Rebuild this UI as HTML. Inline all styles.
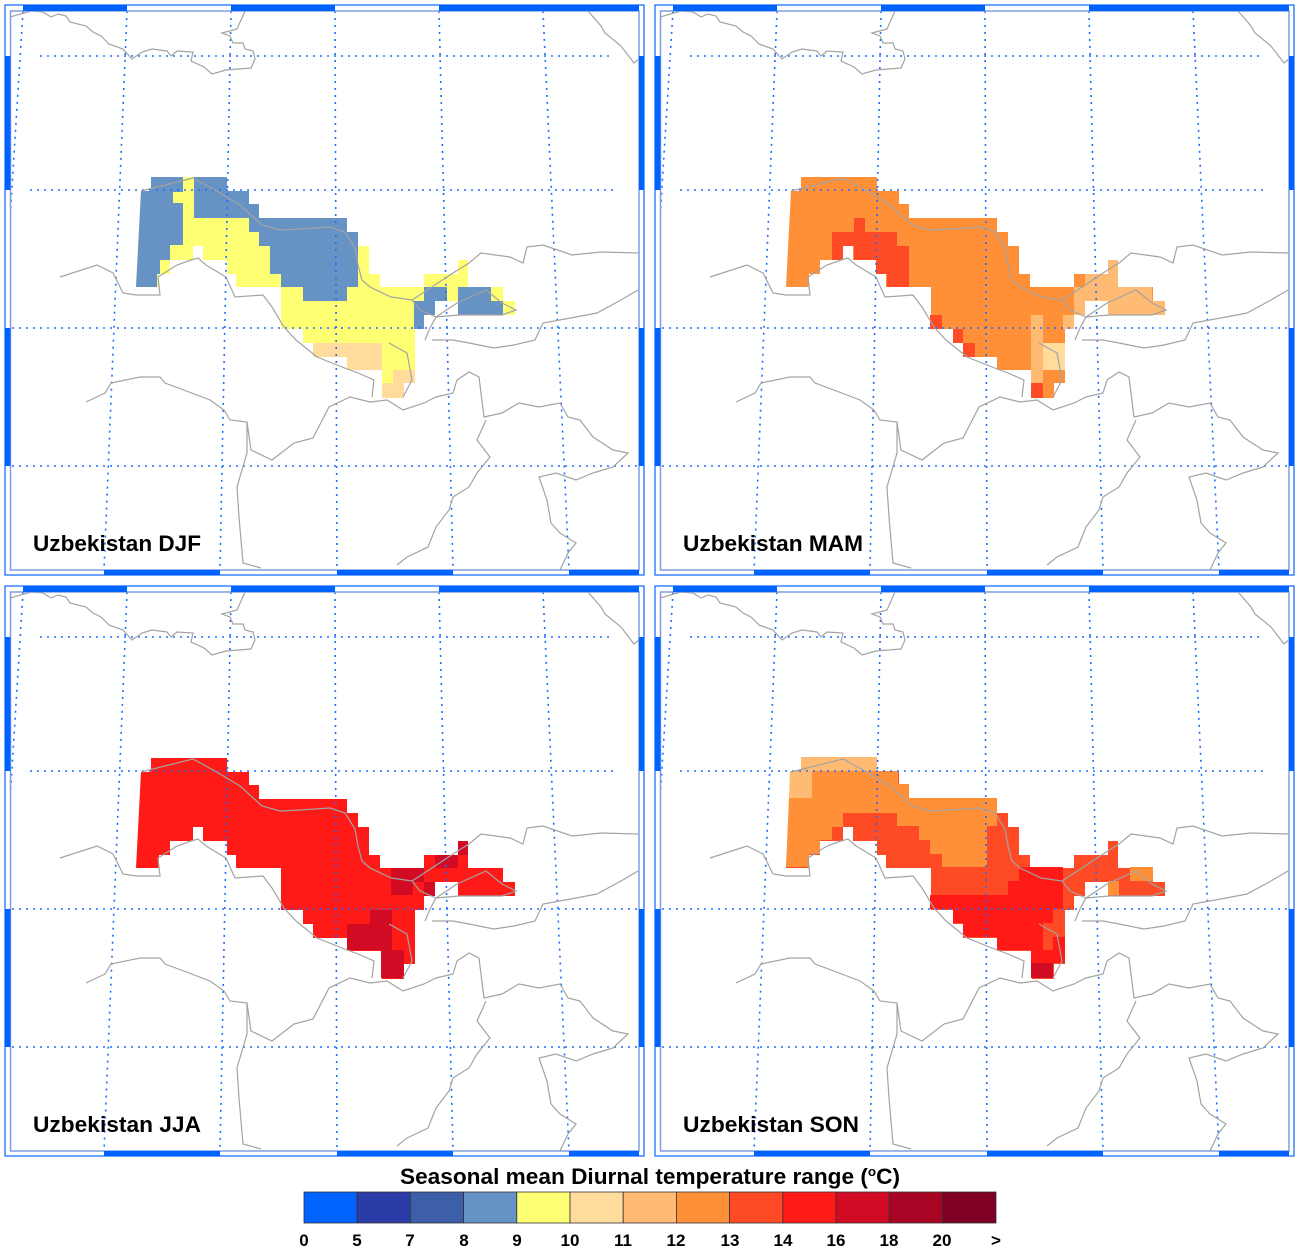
<!DOCTYPE html>
<html><head><meta charset="utf-8"><style>
html,body{margin:0;padding:0;background:#fff;}
svg{display:block;}
text{font-family:"Liberation Sans",Arial,sans-serif;font-weight:bold;fill:#000;}
</style></head><body>
<svg width="1300" height="1250" viewBox="0 0 1300 1250" xmlns="http://www.w3.org/2000/svg">
<defs>
<clipPath id="cp"><rect x="10.5" y="11" width="628.5" height="559"/></clipPath>
<polygon id="uz" points="151,177 227,177 227,191 249,191 249,204 259,204 259,218 347,218 347,232 358,232 358,246 369,246 369,274 380,274 380,287 424,287 424,274 435,274 458,274 458,260 468,260 468,287 503,287 503,301 515,301 515,315 458,315 458,301 435,301 435,315 424,315 424,329 415,329 415,383 404,383 404,398 382,398 382,370 347,370 347,357 313,357 313,343 303,343 303,329 281,329 281,287 236,287 236,274 227,274 227,260 203,260 203,246 193,246 193,260 170,260 170,274 159,274 159,287 136,287 141,191 151,191"/>
<g id="frame">
 <rect x="5" y="5" width="639" height="570" fill="none" stroke="#0a64ff" stroke-width="1.2"/>
 <rect x="10.5" y="11" width="628.5" height="559" fill="none" stroke="#7f9ee0" stroke-width="1.5"/>
 <g fill="#0062ff">
  <rect x="23" y="5" width="104" height="6"/><rect x="231" y="5" width="104" height="6"/><rect x="439" y="5" width="200" height="6"/>
  <rect x="104" y="570" width="116" height="5"/><rect x="337" y="570" width="116" height="5"/><rect x="569" y="570" width="70" height="5"/>
  <rect x="5" y="56" width="5.5" height="134"/><rect x="5" y="328" width="5.5" height="138"/>
  <rect x="639" y="56" width="5" height="134"/><rect x="639" y="328" width="5" height="138"/>
 </g>
</g>
<g id="grid" clip-path="url(#cp)">
 <g fill="none" stroke="#1f6dff" stroke-width="1.6" stroke-dasharray="2,5">
  <line x1="23" y1="11" x2="-12" y2="570"/><line x1="127" y1="11" x2="104" y2="570"/>
  <line x1="231" y1="11" x2="220" y2="570"/><line x1="335" y1="11" x2="337" y2="570"/>
  <line x1="439" y1="11" x2="453" y2="570"/><line x1="543" y1="11" x2="569" y2="570"/>
  <line x1="40" y1="56" x2="612" y2="56"/><line x1="30" y1="190" x2="615" y2="190"/>
  <line x1="12" y1="328" x2="637" y2="328"/><line x1="12" y1="466" x2="637" y2="466"/>
 </g>
</g>
<g id="borders" clip-path="url(#cp)" fill="none" stroke="#a3a3a3" stroke-width="1.2">
 <polyline points="10,17 31,11 43,12 51,17 58,14 66,16 70,22 86,26 93,32 101,36 109,44 123,49 132,59 142,52 152,49 167,51 171,56 177,51 193,52 191,61 204,67 212,74 226,70 251,68 255,59 253,51 245,49 243,43 233,43 230,36 222,33 237,29 245,11"/>
 <polyline points="588,11 601,26 605,33 621,46 634,63 640,58"/>
 <polyline points="141,191 193,178 215,190 240,205 262,225 280,230 300,229 330,227 345,232 355,248 358,265 362,280 370,287 391,297 412,300 432,287 453,273 469,263 481,253 510,257 523,263 527,247 543,245 572,255 601,252 638,253"/>
 <polyline points="60,277 97,265 113,273 123,293 136,295 160,295 158,277 177,265 191,260 198,258 206,265 226,277 235,297 263,295 272,307 284,327 296,340 317,357 342,367 358,373 374,380 372,397"/>
 <polyline points="389,343 407,353 412,380 403,397"/>
 <polyline points="412,300 420,310 436,317 457,303 486,290 502,303 516,310 502,315 459,315 436,317 430,328 425,340"/>
 <polyline points="432,340 453,340 469,343 494,348 514,345 535,340 543,323 576,317 597,313 621,300 638,290"/>
 <polyline points="86,402 105,393 111,383 140,377 160,377 165,383 189,392 210,400 224,410 230,420 247,422 251,450 272,460 294,443 313,438 329,407 350,397 370,402 387,400 403,410 424,403 436,397 453,393 457,380 469,372 479,377 484,417 502,413 519,403 539,407 560,403 568,417 580,420 593,437 613,450 628,453 613,467 593,473 576,480 556,473 539,477 547,500 551,523 560,533 576,543 568,553 560,570"/>
 <polyline points="247,422 247,453 237,487 239,517 243,563 261,568"/>
 <polyline points="486,420 477,440 490,457 477,473 469,487 453,497 449,510 436,527 428,547 407,557 397,565"/>
</g>
</defs>

<!-- DJF -->
<g>
 <use href="#uz" fill="#ffff73"/>
 <g fill="#6692c4">
  <polygon points="151,177 183,177 183,192 173,192 173,203 183,203 183,245 170,245 170,260 160,260 160,274 157,274 157,287 136,287 141,191 151,191"/>
  <polygon points="194,177 227,177 227,191 249,191 249,204 259,204 259,218 347,218 347,232 358,232 358,287 347,287 347,301 303,301 303,287 281,287 281,274 270,274 270,246 259,246 259,232 249,232 249,218 194,218"/>
  <polygon points="424,287 447,287 447,301 435,301 435,315 424,315 424,329 414,329 414,301 424,301"/>
  <polygon points="458,287 491,287 491,301 503,301 503,315 458,315"/>
 </g>
 <g fill="#ffdc9c">
  <polygon points="313,343 382,343 382,370 347,370 347,357 313,357"/>
  <polygon points="393,370 415,370 415,383 404,383 404,398 382,398 382,383 393,383"/>
 </g>
 <use href="#grid"/><use href="#borders"/><use href="#frame"/>
 <text x="33" y="551" font-size="22" textLength="168" lengthAdjust="spacingAndGlyphs">Uzbekistan DJF</text>
</g>

<!-- MAM -->
<g transform="translate(650,0)">
 <use href="#uz" fill="#ff9038"/>
 <g fill="#ff4a26">
  <polygon points="182,232 204,232 204,218 215,218 215,232 247,232 247,246 259,246 259,287 237,287 237,274 226,274 226,260 204,260 204,246 193,246 193,260 182,260"/>
  <rect x="280" y="315" width="12" height="14"/><rect x="303" y="329" width="10" height="14"/><rect x="313" y="343" width="12" height="14"/><rect x="381" y="383" width="12" height="15"/>
 </g>
 <g fill="#ffbb73">
  <polygon points="424,287 435,287 435,274 458,274 458,260 468,260 468,287 502,287 502,301 515,301 515,315 458,315 458,301 435,301 435,315 424,315 424,329 413,329 413,315 424,315"/>
  <rect x="381" y="315" width="12" height="68"/>
 </g>
 <rect x="393" y="343" width="22" height="27" fill="#ffdc9c"/>
 <use href="#grid"/><use href="#borders"/><use href="#frame"/>
 <text x="33" y="551" font-size="22" textLength="180" lengthAdjust="spacingAndGlyphs">Uzbekistan MAM</text>
</g>

<!-- JJA -->
<g transform="translate(0,581)">
 <use href="#uz" fill="#ff1a17"/>
 <g fill="#d10b23">
  <rect x="370" y="329" width="22" height="14"/><rect x="347" y="343" width="45" height="26"/><rect x="381" y="369" width="23" height="28"/>
  <rect x="391" y="287" width="22" height="27"/><rect x="413" y="287" width="11" height="14"/><rect x="435" y="274" width="23" height="13"/><rect x="458" y="260" width="10" height="14"/><rect x="424" y="301" width="11" height="14"/>
 </g>
 <use href="#grid"/><use href="#borders"/><use href="#frame"/>
 <text x="33" y="551" font-size="22" textLength="168" lengthAdjust="spacingAndGlyphs">Uzbekistan JJA</text>
</g>

<!-- SON -->
<g transform="translate(650,581)">
 <use href="#uz" fill="#ff4a26"/>
 <polygon fill="#ff9038" points="139,217 162,217 162,190 248,190 248,203 259,203 259,217 347,217 347,245 337,245 337,286 292,286 292,273 280,273 280,259 269,259 269,245 247,245 247,232 193,232 193,246 182,246 182,259 170,259 170,273 159,273 159,286 136,286"/>
 <polygon fill="#ffbb73" points="151,176 227,176 227,190 162,190 162,217 139,217 140,190 151,190"/>
 <rect x="480" y="286" width="23" height="14" fill="#ff9038"/><rect x="458" y="300" width="11" height="14" fill="#ff9038"/>
 <polygon fill="#ff1a17" points="280,314 358,314 358,300 369,300 369,286 413,286 413,328 403,328 403,342 415,342 415,382 403,382 403,397 381,397 381,369 347,369 347,356 313,356 313,342 303,342 303,328 280,328"/>
 <rect x="393" y="342" width="22" height="14" fill="#ff4a26"/><rect x="393" y="356" width="10" height="13" fill="#ff4a26"/>
 <rect x="381" y="382" width="22" height="15" fill="#d10b23"/>
 <use href="#grid"/><use href="#borders"/><use href="#frame"/>
 <text x="33" y="551" font-size="22" textLength="176" lengthAdjust="spacingAndGlyphs">Uzbekistan SON</text>
</g>

<!-- Colorbar -->
<text x="400" y="1184" font-size="22" textLength="500" lengthAdjust="spacingAndGlyphs">Seasonal mean Diurnal temperature range (<tspan font-size="13" dy="-8">o</tspan><tspan dy="8">C)</tspan></text>
<g stroke="#333" stroke-width="0.8">
 <rect x="304" y="1192" width="53.2" height="31" fill="#0062ff"/>
 <rect x="357.2" y="1192" width="53.2" height="31" fill="#2b3ca8"/>
 <rect x="410.4" y="1192" width="53.2" height="31" fill="#3d5ea8"/>
 <rect x="463.6" y="1192" width="53.2" height="31" fill="#6692c4"/>
 <rect x="516.8" y="1192" width="53.2" height="31" fill="#ffff73"/>
 <rect x="570" y="1192" width="53.2" height="31" fill="#ffdc9c"/>
 <rect x="623.2" y="1192" width="53.2" height="31" fill="#ffbb73"/>
 <rect x="676.4" y="1192" width="53.2" height="31" fill="#ff9038"/>
 <rect x="729.6" y="1192" width="53.2" height="31" fill="#ff4a26"/>
 <rect x="782.8" y="1192" width="53.2" height="31" fill="#ff1a17"/>
 <rect x="836" y="1192" width="53.2" height="31" fill="#d10b23"/>
 <rect x="889.2" y="1192" width="53.2" height="31" fill="#a80423"/>
 <rect x="942.4" y="1192" width="53.6" height="31" fill="#800023"/>
</g>
<g font-size="17" text-anchor="middle">
 <text x="304" y="1246">0</text><text x="357" y="1246">5</text><text x="410" y="1246">7</text><text x="464" y="1246">8</text>
 <text x="517" y="1246">9</text><text x="570" y="1246">10</text><text x="623" y="1246">11</text><text x="676" y="1246">12</text>
 <text x="730" y="1246">13</text><text x="783" y="1246">14</text><text x="836" y="1246">16</text><text x="889" y="1246">18</text>
 <text x="942" y="1246">20</text><text x="996" y="1246">&gt;</text>
</g>
</svg>
</body></html>
